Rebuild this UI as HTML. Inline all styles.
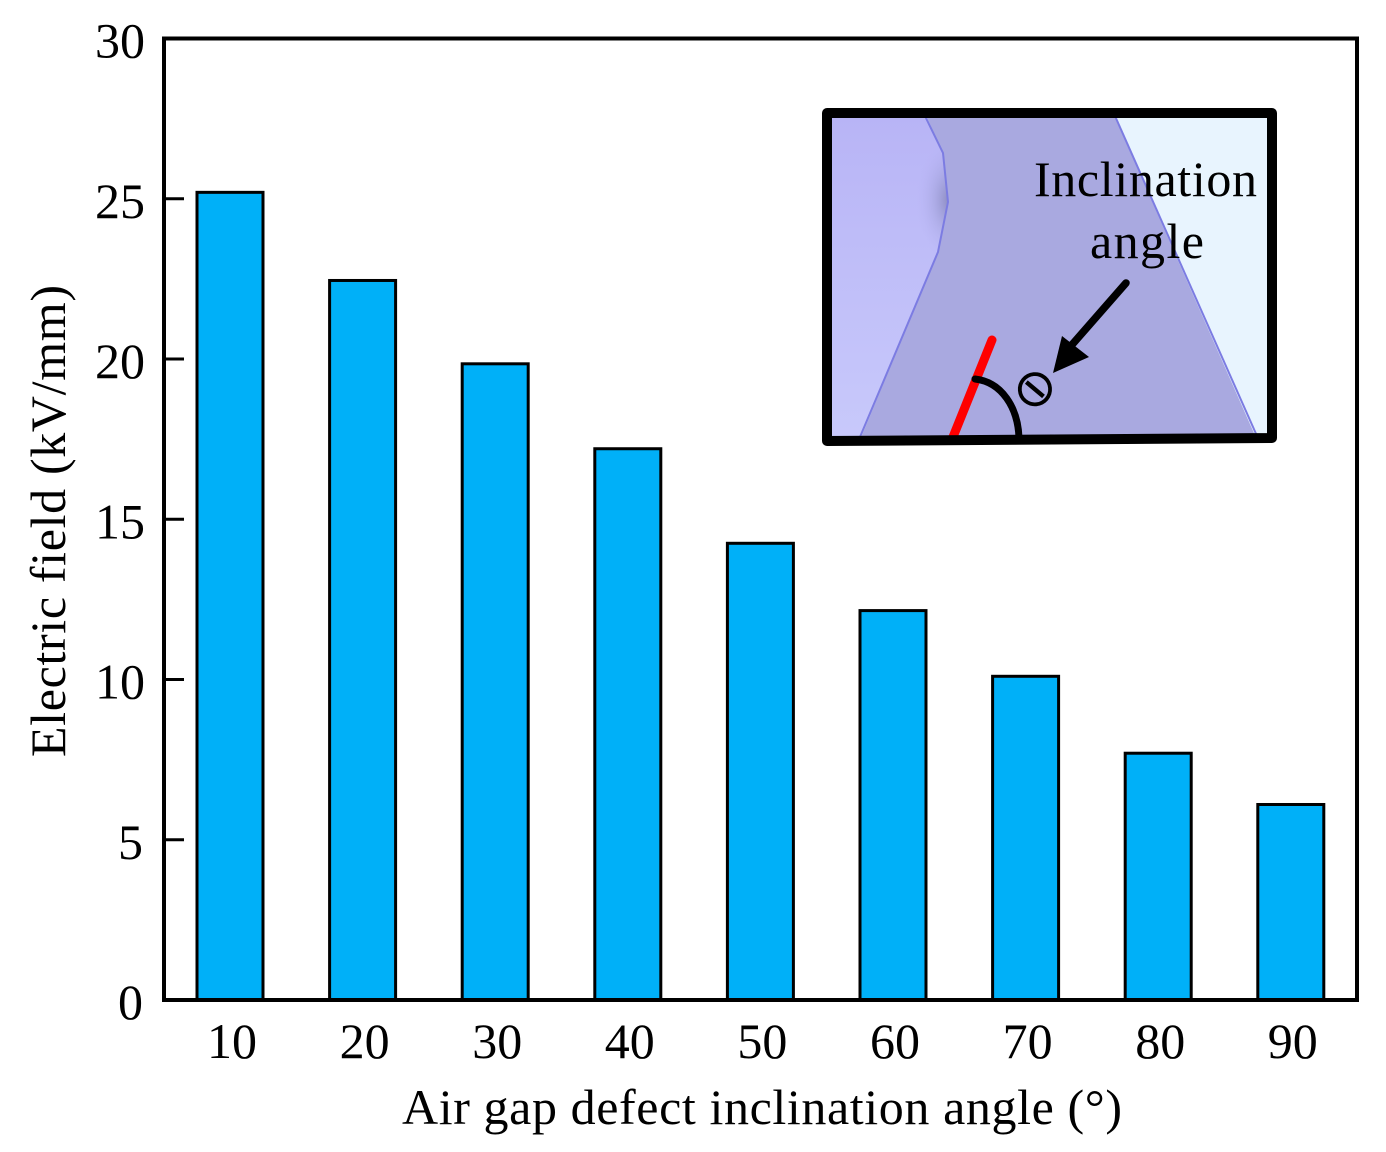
<!DOCTYPE html>
<html>
<head>
<meta charset="utf-8">
<style>
html,body{margin:0;padding:0;background:#fff;}
svg{display:block;}
text{font-family:"Liberation Serif",serif;fill:#000;}
</style>
</head>
<body>
<svg id="chart" xmlns="http://www.w3.org/2000/svg" width="1386" height="1152" viewBox="0 0 1386 1152">
  <defs>
    <linearGradient id="leftFill" x1="0" y1="0" x2="0" y2="1">
      <stop offset="0" stop-color="#b8b4f6"/>
      <stop offset="1" stop-color="#c8c9fb"/>
    </linearGradient>
    <radialGradient id="edgeShade">
      <stop offset="0" stop-color="#8484b8" stop-opacity="0.9"/>
      <stop offset="0.5" stop-color="#9c9cd4" stop-opacity="0.4"/>
      <stop offset="1" stop-color="#b8b4f6" stop-opacity="0"/>
    </radialGradient>
  </defs>
  <g id="bars"></g>
  <g id="axes"></g>
  <text x="402" y="1124" font-size="50" textLength="720">Air gap defect inclination angle (°)</text>
  <text transform="translate(65,757) rotate(-90)" font-size="50" textLength="472">Electric field (kV/mm)</text>

  <g>
    <rect x="827" y="113" width="445" height="326" fill="#e8f4fe"/>
    <polygon points="827,113 925,113 943,153 948,202 938,252 860,440 827,440" fill="url(#leftFill)"/>
    <ellipse cx="950" cy="200" rx="34" ry="62" fill="url(#edgeShade)"/>
    <polygon points="925,113 1113,113 1257,440 860,440 938,252 948,202 943,153" fill="#a9a9e0"/>
    <polyline points="925,116 943,153 948,202 938,252 860,437" fill="none" stroke="#7c7ce2" stroke-width="2"/>
    <line x1="1115" y1="116" x2="1257" y2="436" stroke="#7c7ce2" stroke-width="2"/>
    <line x1="992" y1="340" x2="953" y2="437" stroke="#ff0000" stroke-width="9" stroke-linecap="round"/>
    <path d="M975,379 C1002,382 1018,408 1019,438" fill="none" stroke="#000" stroke-width="7" stroke-linecap="round"/>
    <polygon points="827,113 1272,113 1272,438 827,441" fill="none" stroke="#000" stroke-width="10" stroke-linejoin="round"/>
    <line x1="1126" y1="283" x2="1070" y2="347" stroke="#000" stroke-width="7.5" stroke-linecap="round"/>
    <polygon points="1053,373 1062,336 1089,357" fill="#000"/>
    <text transform="translate(1036,388) rotate(40)" font-size="52" text-anchor="middle" y="18" style="font-family:'DejaVu Sans',sans-serif">⊖</text>
    <text x="1034" y="196" font-size="50" textLength="223">Inclination</text>
    <text x="1090" y="258" font-size="50" textLength="114">angle</text>
  </g>
</svg>
<script>
const categories = ["10","20","30","40","50","60","70","80","90"];
const fieldValues = [25.2,22.45,19.85,17.2,14.25,12.15,10.1,7.7,6.1];
const yTickValues = [0,5,10,15,20,25,30];

const NS = "http://www.w3.org/2000/svg";
const plotLeft = 164, plotRight = 1357, plotTop = 38.5, plotBottom = 1000;
const yMax = 30;
const firstCenter = 230, band = 132.6, barWidth = 66;
function yScale(v){ return plotBottom - (v / yMax) * (plotBottom - plotTop); }
function xScale(i){ return firstCenter + i * band; }

const barsG = document.getElementById("bars");
const axesG = document.getElementById("axes");

categories.forEach(function(cat, i){
  const v = fieldValues[i];
  const r = document.createElementNS(NS, "rect");
  r.setAttribute("x", xScale(i) - barWidth / 2);
  r.setAttribute("y", yScale(v));
  r.setAttribute("width", barWidth);
  r.setAttribute("height", plotBottom - yScale(v));
  r.setAttribute("fill", "#00b0f8");
  r.setAttribute("stroke", "#000");
  r.setAttribute("stroke-width", "3");
  
  
  barsG.appendChild(r);

  const t = document.createElementNS(NS, "text");
  t.setAttribute("x", xScale(i) + 2);
  t.setAttribute("y", 1058);
  t.setAttribute("font-size", "50");
  t.setAttribute("text-anchor", "middle");
  t.textContent = cat;
  
  
  axesG.appendChild(t);
});

const frame = document.createElementNS(NS, "rect");
frame.setAttribute("x", plotLeft);
frame.setAttribute("y", plotTop);
frame.setAttribute("width", plotRight - plotLeft);
frame.setAttribute("height", plotBottom - plotTop);
frame.setAttribute("fill", "none");
frame.setAttribute("stroke", "#000");
frame.setAttribute("stroke-width", "4");


axesG.appendChild(frame);

yTickValues.forEach(function(v){
  if (v > 0 && v < yMax) {
    const l = document.createElementNS(NS, "line");
    l.setAttribute("x1", plotLeft);
    l.setAttribute("x2", plotLeft + 20);
    l.setAttribute("y1", yScale(v));
    l.setAttribute("y2", yScale(v));
    l.setAttribute("stroke", "#000");
    l.setAttribute("stroke-width", "3");
    
    
    axesG.appendChild(l);
  }
  const t = document.createElementNS(NS, "text");
  t.setAttribute("x", v < 10 ? 143 : 145);
  t.setAttribute("y", yScale(v) + 19);
  t.setAttribute("font-size", "50");
  t.setAttribute("text-anchor", "end");
  t.textContent = v;
  
  
  axesG.appendChild(t);
});
</script>
</body>
</html>
